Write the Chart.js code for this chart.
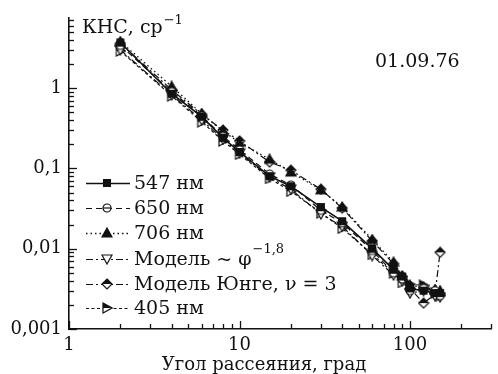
<!DOCTYPE html>
<html>
<head>
<meta charset="utf-8">
<script src="https://cdn.jsdelivr.net/npm/chart.js@4/dist/chart.umd.min.js"></script>
<style>
  html, body { margin: 0; padding: 0; background: #fff; }
  #wrap { width: 498px; height: 374px; }
</style>
</head>
<body>
<div id="wrap"><canvas id="chart" width="498" height="374"></canvas></div>
<script>
// ─── Data ─────────────────────────────────────────────────────────────────────
const angles = [2, 4, 6, 8, 10, 15, 20, 30, 40, 60, 80, 90, 100, 120, 140, 150];
const nm547 = [3.7, 0.85, 0.44, 0.24, 0.16, 0.080, 0.060, 0.033, 0.022, 0.0100, 0.0055, 0.0045, 0.0032, 0.0030, 0.0028, 0.0028];
const nm650 = [3.4, 0.90, 0.45, 0.25, 0.17, 0.085, 0.062, 0.030, 0.021, 0.0095, 0.0050, 0.0042, 0.0030, 0.0032, 0.0030, 0.0026];
const nm706 = [3.8, 1.05, 0.48, 0.29, 0.21, 0.130, 0.090, 0.054, 0.033, 0.0130, 0.0068, 0.0046, 0.0035, 0.0033, 0.0031, 0.0030];
const modelPhi = [3.0, 0.82, 0.40, 0.23, 0.155, 0.078, 0.055, 0.027, 0.019, 0.0082, 0.0047, 0.0040, 0.0028, 0.0030, 0.0026, 0.0025];
const modelJunge = [3.6, 0.95, 0.47, 0.30, 0.22, 0.120, 0.095, 0.055, 0.032, 0.0125, 0.0065, 0.0045, 0.0032, 0.0021, 0.0027, 0.0090];
const nm405 = [2.9, 0.80, 0.38, 0.22, 0.15, 0.075, 0.052, 0.028, 0.018, 0.0085, 0.0050, 0.0038, 0.0036, 0.0035, 0.0028, 0.0026];

const yTickLabels = { 1: '1', 0.1: '0,1', 0.01: '0,01', 0.001: '0,001' };
const xTickLabels = { 1: '1', 10: '10', 100: '100' };

const FONT = '"DejaVu Serif", "Liberation Serif", serif';
const INK = '#111';

// ─── Marker images ────────────────────────────────────────────────────────────
function marker(kind) {
  const c = document.createElement('canvas');
  c.width = 12; c.height = 12;
  const g = c.getContext('2d');
  g.lineWidth = 1.2;
  g.strokeStyle = INK;
  g.fillStyle = INK;
  const cx = 6, cy = 6;
  if (kind === 'square') {
    g.fillRect(2, 2, 8, 8);
  } else if (kind === 'circleBar') {
    g.fillStyle = '#fff';
    g.beginPath(); g.arc(cx, cy, 4, 0, Math.PI * 2); g.fill(); g.stroke();
    g.beginPath(); g.moveTo(2, cy); g.lineTo(10, cy); g.stroke();
  } else if (kind === 'triUp') {
    g.beginPath(); g.moveTo(cx, 1); g.lineTo(11, 10); g.lineTo(1, 10); g.closePath(); g.fill(); g.stroke();
  } else if (kind === 'triDown') {
    g.fillStyle = '#fff';
    g.beginPath(); g.moveTo(1, 2); g.lineTo(11, 2); g.lineTo(cx, 11); g.closePath(); g.fill(); g.stroke();
  } else if (kind === 'diamondHalf') {
    g.fillStyle = '#fff';
    g.beginPath(); g.moveTo(cx, 1); g.lineTo(11, cy); g.lineTo(cx, 11); g.lineTo(1, cy); g.closePath(); g.fill();
    g.fillStyle = INK;
    g.beginPath(); g.moveTo(cx, 1); g.lineTo(11, cy); g.lineTo(1, cy); g.closePath(); g.fill();
    g.beginPath(); g.moveTo(cx, 1); g.lineTo(11, cy); g.lineTo(cx, 11); g.lineTo(1, cy); g.closePath(); g.stroke();
  } else if (kind === 'triRightHalf') {
    g.fillStyle = '#fff';
    g.beginPath(); g.moveTo(2, 1); g.lineTo(11, cy); g.lineTo(2, 11); g.closePath(); g.fill();
    g.fillStyle = INK;
    g.beginPath(); g.moveTo(2, 1); g.lineTo(11, cy); g.lineTo(2, cy); g.closePath(); g.fill();
    g.beginPath(); g.moveTo(2, 1); g.lineTo(11, cy); g.lineTo(2, 11); g.closePath(); g.stroke();
  }
  return c;
}

// ─── Series definitions ───────────────────────────────────────────────────────
const series = [
  { label: '547 нм', values: nm547, dash: [], width: 1.6, mark: 'square' },
  { label: '650 нм', values: nm650, dash: [6, 4], width: 1.2, mark: 'circleBar' },
  { label: '706 нм', values: nm706, dash: [1.5, 3], width: 1.3, mark: 'triUp' },
  { label: 'Модель ~ φ', sup: '−1,8', values: modelPhi, dash: [7, 3, 2, 3], width: 1.2, mark: 'triDown' },
  { label: 'Модель Юнге, ν = 3', values: modelJunge, dash: [7, 3, 2, 3], width: 1.2, mark: 'diamondHalf' },
  { label: '405 нм', values: nm405, dash: [3, 2.5], width: 1.2, mark: 'triRightHalf' }
];
series.forEach(s => { s.img = marker(s.mark); });

const datasets = series.map(s => ({
  label: s.label,
  data: angles.map((a, i) => ({ x: a, y: s.values[i] })),
  borderColor: INK,
  borderWidth: s.width,
  borderDash: s.dash,
  pointStyle: s.img,
  pointRadius: 5,
  fill: false,
  tension: 0
}));

// ─── Tick values (decade + minor) ─────────────────────────────────────────────
function logTicks(min, max) {
  const out = [];
  for (let e = Math.floor(Math.log10(min)); e <= Math.ceil(Math.log10(max)); e++) {
    for (let m = 1; m <= 9; m++) {
      const v = +(m * Math.pow(10, e)).toPrecision(6);
      if (v >= min && v <= max) out.push({ value: v, major: m === 1 });
    }
  }
  return out;
}

// ─── Plugin: inside ticks, titles, legend ─────────────────────────────────────
const decorPlugin = {
  id: 'decor',
  afterDraw(chart) {
    const ctx = chart.ctx;
    const { x, y } = chart.scales;
    const area = chart.chartArea;
    ctx.save();
    ctx.strokeStyle = INK;
    ctx.lineWidth = 1.3;
    y.ticks.forEach(t => {
      const py = Math.round(y.getPixelForValue(t.value)) + 0.5;
      const len = t.major ? 8 : 5;
      ctx.beginPath(); ctx.moveTo(area.left, py); ctx.lineTo(area.left + len, py); ctx.stroke();
    });
    x.ticks.forEach(t => {
      const px = Math.round(x.getPixelForValue(t.value)) + 0.5;
      const len = t.major ? 8 : 5;
      ctx.beginPath(); ctx.moveTo(px, area.bottom); ctx.lineTo(px, area.bottom - len); ctx.stroke();
    });

    ctx.fillStyle = INK;
    ctx.textBaseline = 'alphabetic';
    ctx.textAlign = 'left';
    // y title
    ctx.font = '19px ' + FONT;
    ctx.fillText('КНС, ср', 82, 33);
    const w = ctx.measureText('КНС, ср').width;
    ctx.font = '13px ' + FONT;
    ctx.fillText('−1', 82 + w + 1, 24);
    // date
    ctx.font = '19px ' + FONT;
    ctx.fillText('01.09.76', 375, 67);
    // x title
    ctx.font = '18px ' + FONT;
    ctx.textAlign = 'center';
    ctx.fillText('Угол рассеяния, град', 264, 370);

    // legend
    const rowY = [183, 208, 233, 259, 284, 308];
    series.forEach((s, i) => {
      const ly = rowY[i];
      ctx.setLineDash(s.dash);
      ctx.lineWidth = s.width;
      ctx.beginPath(); ctx.moveTo(86, ly + 0.5); ctx.lineTo(130, ly + 0.5); ctx.stroke();
      ctx.setLineDash([]);
      ctx.drawImage(s.img, 107 - 6, ly - 6);
      ctx.textAlign = 'left';
      ctx.textBaseline = 'middle';
      ctx.font = '19px ' + FONT;
      ctx.fillText(s.label, 134, ly + 1);
      if (s.sup) {
        const lw = ctx.measureText(s.label).width;
        ctx.font = '13px ' + FONT;
        ctx.fillText(s.sup, 134 + lw + 1, ly - 9);
      }
    });
    ctx.restore();
  }
};

new Chart(document.getElementById('chart'), {
  type: 'line',
  data: { datasets },
  options: {
    responsive: false,
    animation: false,
    layout: { padding: { top: 16, right: 1, left: 0, bottom: 0 } },
    plugins: { legend: { display: false }, tooltip: { enabled: false } },
    scales: {
      x: {
        type: 'logarithmic',
        min: 1,
        max: 300,
        afterFit: s => { s.height = 45; },
        afterBuildTicks: s => { s.ticks = logTicks(1, 300); },
        grid: { display: false, drawTicks: false },
        border: { display: true, color: INK, width: 1.6 },
        ticks: {
          autoSkip: false,
          maxRotation: 0,
          padding: 6,
          color: INK,
          font: { family: FONT, size: 18 },
          callback: v => xTickLabels[v] || ''
        }
      },
      y: {
        type: 'logarithmic',
        min: 0.001,
        max: 7.5,
        afterFit: s => { s.width = 69; },
        afterBuildTicks: s => { s.ticks = logTicks(0.001, 7.5); },
        grid: { display: false, drawTicks: false },
        border: { display: true, color: INK, width: 1.6 },
        ticks: {
          autoSkip: false,
          padding: 7,
          color: INK,
          font: { family: FONT, size: 18 },
          callback: v => yTickLabels[v] || ''
        }
      }
    }
  },
  plugins: [decorPlugin]
});
</script>
</body>
</html>
